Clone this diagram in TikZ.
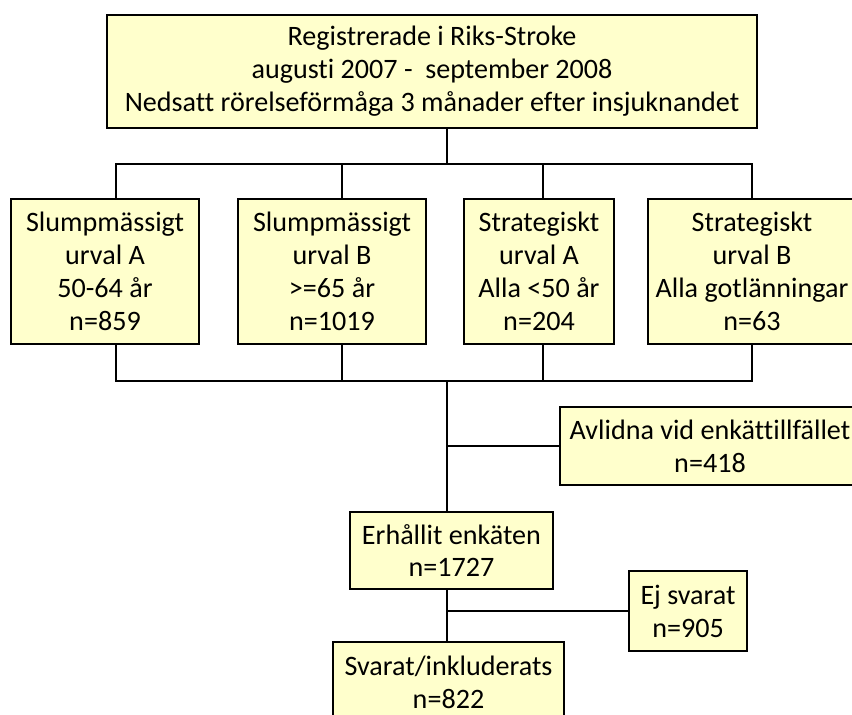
\documentclass[tikz,border=0pt]{standalone}
\usepackage{fontspec}
\setmainfont{Carlito}[Ligatures=NoCommon]
\usepackage{tikz}
\usetikzlibrary{calc,shapes}
\definecolor{boxyellow}{HTML}{FFFFCC}
\tikzstyle{yellowbox}=[rectangle,draw=black,fill=boxyellow,line width=1.2pt,
                       font=\fontsize{16}{18.7}\selectfont,align=center,inner sep=0pt]
\tikzstyle{branch}=[line width=1.2pt]
\begin{document}
\begin{tikzpicture}[x=0.02cm,y=-0.02cm]
        \useasboundingbox (0,0) rectangle (852,715);
        \node [yellowbox,minimum width=13cm,minimum height=2.26cm] (Registrerade) at (432,71.5) {
            Registrerade i Riks-Stroke\\augusti 2007 -\ \ september 2008\\Nedsatt rörelseförmåga 3 månader efter insjuknandet
        };
        \node [yellowbox,minimum width=3.76cm,minimum height=2.9cm] (SlumpA) at (105,271.5) {
            Slumpmässigt\\urval A\\50-64 år\\n=859
        };
        \node [yellowbox,minimum width=3.76cm,minimum height=2.9cm] (SlumpB) at (332,271.5) {
            Slumpmässigt\\urval B\\>=65 år\\n=1019
        };
        \node [yellowbox,minimum width=3.0cm,minimum height=2.9cm] (StratA) at (539,271.5) {
            Strategiskt\\urval A\\Alla <50 år\\n=204
        };
        \node [yellowbox,minimum width=4.16cm,minimum height=2.9cm] (StratB) at (752,271.5) {
            Strategiskt\\urval B\\Alla gotlänningar\\n=63
        };
        \node [yellowbox,minimum width=6.0cm,minimum height=1.56cm] (Avlidna) at (710,446) {
            Avlidna vid enkättillfället\\n=418
        };
        \node [yellowbox,minimum width=4.06cm,minimum height=1.54cm] (Erhallit) at (451.5,550.5) {
            Erhållit enkäten\\n=1727
        };
        \node [yellowbox,minimum width=2.36cm,minimum height=1.6cm] (Ejsvarat) at (688,611) {
            Ej svarat\\n=905
        };
        \node [yellowbox,minimum width=4.62cm,minimum height=1.6cm] (Svarat) at (448.5,682) {
            Svarat/inkluderats\\n=822
        };
        % grenar ovanfor urvalen
        \coordinate (topL) at (116,164);
        \coordinate (topB) at (342,164);
        \coordinate (topM) at (447,164);
        \coordinate (topC) at (543,164);
        \coordinate (topR) at (752,164);
        \draw [branch] (topM |- Registrerade.south) -- (topM);
        \draw [branch] (topL |- SlumpA.north) -- (topL) -- (topR) -- (topR |- StratB.north);
        \draw [branch] (topB) -- (topB |- SlumpB.north);
        \draw [branch] (topC) -- (topC |- StratA.north);
        % grenar nedanfor urvalen
        \coordinate (botL) at (116,381);
        \coordinate (botB) at (342,381);
        \coordinate (botM) at (447,381);
        \coordinate (botC) at (543,381);
        \coordinate (botR) at (752,381);
        \draw [branch] (botL |- SlumpA.south) -- (botL) -- (botR) -- (botR |- StratB.south);
        \draw [branch] (botB |- SlumpB.south) -- (botB);
        \draw [branch] (botC |- StratA.south) -- (botC);
        \draw [branch] (botM) -- (botM |- Erhallit.north);
        \draw [branch] (botM |- Avlidna.west) -- (Avlidna.west);
        \draw [branch] (botM |- Erhallit.south) -- (botM |- Svarat.north);
        \draw [branch] (botM |- Ejsvarat.west) -- (Ejsvarat.west);
\end{tikzpicture}
\end{document}
